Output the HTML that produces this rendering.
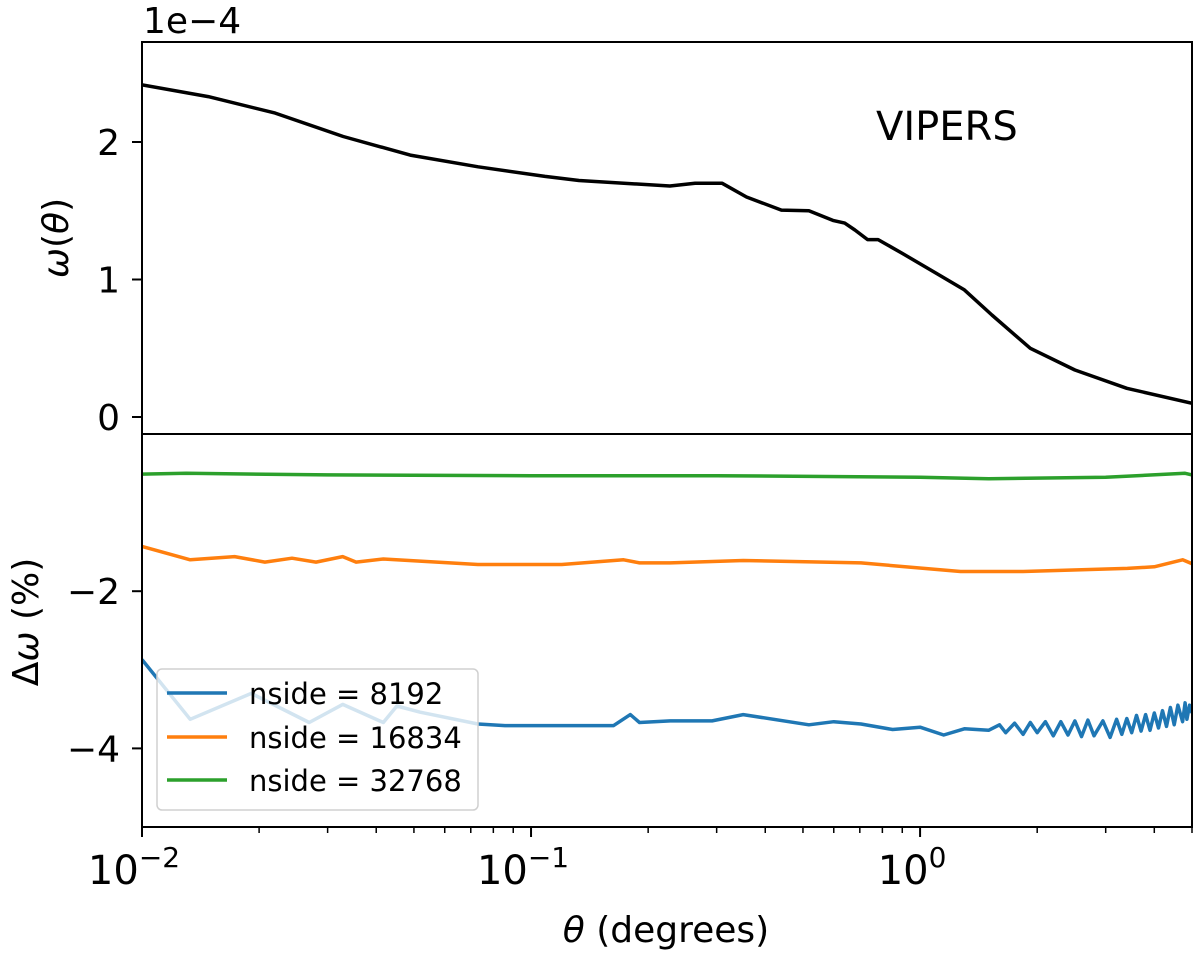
<!DOCTYPE html>
<html><head><meta charset="utf-8"><style>
html,body{margin:0;padding:0;background:#fff;}
svg{display:block;font-family:"DejaVu Sans","Liberation Sans",sans-serif;}
</style></head><body>
<svg id="chart" width="1200" height="965" viewBox="0 0 1200 965" xmlns="http://www.w3.org/2000/svg">
<g id="plots"></g>
<g id="axes"></g>
</svg>
<script>
// ---- data ----
const thetaTop = [0.01,0.0148,0.022,0.0329,0.0489,0.0731,0.1086,0.1328,0.2275,0.264,0.31,0.358,0.44,0.518,0.597,0.64,0.68,0.733,0.78,0.90,1.10,1.30,1.53,1.92,2.50,3.40,5.0];
const omegaTop = [2.415,2.33,2.21,2.04,1.905,1.82,1.75,1.72,1.68,1.70,1.70,1.60,1.505,1.50,1.43,1.41,1.36,1.29,1.29,1.19,1.045,0.924,0.742,0.50,0.342,0.209,0.10];

const thetaBlue = [0.01,0.0133,0.0191,0.0269,0.0328,0.0417,0.0452,0.0519,0.073,0.0857,0.163,0.18,0.19,0.228,0.292,0.351,0.518,0.6,0.705,0.85,1.0,1.15,1.3,1.5,1.6,1.66,1.75,1.84,1.92,2.0,2.1,2.2,2.3,2.4,2.5,2.6,2.7,2.8,2.95,3.08,3.2,3.3,3.4,3.5,3.6,3.7,3.8,3.9,4.0,4.1,4.2,4.3,4.4,4.5,4.6,4.73,4.8,4.85,4.93,5.0];
const deltaBlue = [-2.87,-3.63,-3.30,-3.67,-3.44,-3.67,-3.46,-3.54,-3.69,-3.71,-3.71,-3.57,-3.67,-3.65,-3.65,-3.57,-3.70,-3.66,-3.69,-3.76,-3.73,-3.83,-3.75,-3.77,-3.70,-3.80,-3.68,-3.82,-3.67,-3.80,-3.66,-3.84,-3.66,-3.83,-3.65,-3.85,-3.64,-3.84,-3.65,-3.86,-3.63,-3.82,-3.62,-3.80,-3.58,-3.78,-3.57,-3.77,-3.55,-3.74,-3.52,-3.72,-3.48,-3.70,-3.45,-3.66,-3.42,-3.63,-3.45,-3.55];

const thetaOrange = [0.01,0.0133,0.0173,0.0207,0.0243,0.028,0.0328,0.0355,0.0417,0.073,0.12,0.173,0.19,0.228,0.351,0.705,1.27,1.84,3.41,4.0,4.73,5.0];
const deltaOrange = [-1.43,-1.60,-1.56,-1.63,-1.58,-1.63,-1.56,-1.63,-1.59,-1.66,-1.66,-1.60,-1.64,-1.64,-1.61,-1.64,-1.75,-1.75,-1.71,-1.69,-1.60,-1.65];

const thetaGreen = [0.01,0.013,0.03,0.1,0.3,1.0,1.5,3.0,4.8,5.0];
const deltaGreen = [-0.51,-0.50,-0.52,-0.53,-0.53,-0.55,-0.57,-0.55,-0.50,-0.52];

const topTicks = [0,1,2];
const topTickLabels = ["0","1","2"];
const botTicks = [-2,-4];
const botTickLabels = ["\u22122","\u22124"];
const xMajor = [0.01,0.1,1];
const xMajorExp = ["\u22122","\u22121","0"];

// ---- axes ----
const L=142,R=1192,T1=42,B1=434,T2=434,B2=827;
const XMIN=Math.log10(0.01),XMAX=Math.log10(5);
function xs(t){return L+(Math.log10(t)-XMIN)/(XMAX-XMIN)*(R-L);}
function ysTop(v){return 417-v*137.5;}
function ysBot(v){return T2+(0-v)/5*(B2-T2);}

const NS="http://www.w3.org/2000/svg";
const plots=document.getElementById('plots');
const axes=document.getElementById('axes');
function mk(tag,attrs,parent){const e=document.createElementNS(NS,tag);for(const k in attrs)e.setAttribute(k,attrs[k]);parent.appendChild(e);return e;}

const defs=mk('defs',{},plots);
const c1=mk('clipPath',{id:'c1'},defs);mk('rect',{x:L,y:T1,width:R-L,height:B1-T1},c1);
const c2=mk('clipPath',{id:'c2'},defs);mk('rect',{x:L,y:T2,width:R-L,height:B2-T2},c2);

function line(th,vals,ysf,color,name,clip,w){
  let d='';
  for(let i=0;i<th.length;i++){d+=(i?'L':'M')+xs(th[i]).toFixed(1)+' '+ysf(vals[i]).toFixed(1);}
  const p=mk('path',{d:d,fill:'none',stroke:color,'stroke-width':w,'stroke-linejoin':'round','clip-path':'url(#'+clip+')'},plots);
  
  
}
line(thetaTop,omegaTop,ysTop,'#000','vipers-curve','c1',3.5);
line(thetaGreen,deltaGreen,ysBot,'#2ca02c','nside-32768-line','c2',3.5);
line(thetaOrange,deltaOrange,ysBot,'#ff7f0e','nside-16834-line','c2',3.5);
line(thetaBlue,deltaBlue,ysBot,'#1f77b4','nside-8192-line','c2',3.5);

const f1=mk('rect',{x:L,y:T1,width:R-L,height:B1-T1,fill:'none',stroke:'#000','stroke-width':2},axes);


const f2=mk('rect',{x:L,y:T2,width:R-L,height:B2-T2,fill:'none',stroke:'#000','stroke-width':2},axes);



for(let i=0;i<topTicks.length;i++){
  const y=ysTop(topTicks[i]);
  mk('line',{x1:L-10,x2:L,y1:y,y2:y,stroke:'#000','stroke-width':2},axes);
  const t=mk('text',{x:L-22,y:y+13,'text-anchor':'end','font-size':36,fill:'#000'},axes);
  t.textContent=topTickLabels[i];
  
  
}
for(let i=0;i<botTicks.length;i++){
  const y=ysBot(botTicks[i]);
  mk('line',{x1:L-10,x2:L,y1:y,y2:y,stroke:'#000','stroke-width':2},axes);
  const t=mk('text',{x:L-22,y:y+13,'text-anchor':'end','font-size':36,fill:'#000'},axes);
  t.textContent=botTickLabels[i];
  
  
}
for(let d=-2;d<=0;d++){
  for(let m=1;m<10;m++){
    const v=m*Math.pow(10,d); if(v>5.0001)break;
    const x=xs(v);
    const len=m===1?10:6;
    mk('line',{x1:x,x2:x,y1:B2,y2:B2+len,stroke:'#000','stroke-width':m===1?2:1.5},axes);
  }
}
for(let i=0;i<xMajor.length;i++){
  const x=xs(xMajor[i]);
  const t=mk('text',{x:x-8,y:884,'text-anchor':'middle','font-size':40,fill:'#000'},axes);
  t.textContent='10';
  const s=mk('tspan',{dy:-17,'font-size':28},t);
  s.textContent=xMajorExp[i];
  
  
}
</script>
<script>
const svg=document.getElementById('chart');
function addText(txt,attrs,name){const e=document.createElementNS("http://www.w3.org/2000/svg",'text');for(const k in attrs)e.setAttribute(k,attrs[k]);e.textContent=txt;svg.appendChild(e);


return e;}
addText('1e\u22124',{x:143,y:33,'font-size':36,fill:'#000'},'offset-label');
addText('VIPERS',{x:876,y:140,'font-size':40,fill:'#000'},'vipers-annotation');
const yl1=addText('',{x:0,y:0,'font-size':36,fill:'#000','text-anchor':'middle',transform:'translate(68,238) rotate(-90)'},'top-y-axis-title');
yl1.innerHTML='<tspan font-style="italic">ω</tspan>(<tspan font-style="italic">θ</tspan>)';
const yl2=addText('',{x:0,y:0,'font-size':36,fill:'#000','text-anchor':'middle',transform:'translate(38,622) rotate(-90)'},'bottom-y-axis-title');
yl2.innerHTML='Δ<tspan font-style="italic">ω</tspan> (%)';
const xl=addText('',{x:666,y:942,'font-size':36,fill:'#000','text-anchor':'middle'},'x-axis-title');
xl.innerHTML='<tspan font-style="italic">θ</tspan> (degrees)';

const NS2="http://www.w3.org/2000/svg";
const lg=document.createElementNS(NS2,'g');svg.appendChild(lg);


const box=document.createElementNS(NS2,'rect');
box.setAttribute('x',157);box.setAttribute('y',669);box.setAttribute('width',321);box.setAttribute('height',141);box.setAttribute('rx',5);
box.setAttribute('fill','rgba(255,255,255,0.8)');box.setAttribute('stroke','#d0d0d0');box.setAttribute('stroke-width',1.5);
lg.appendChild(box);
const legNames=['nside = 8192','nside = 16834','nside = 32768'];
const legColors=['#1f77b4','#ff7f0e','#2ca02c'];
const legY=[693,737,780];
for(let i=0;i<3;i++){
  const ln=document.createElementNS(NS2,'line');
  ln.setAttribute('x1',167);ln.setAttribute('x2',227);ln.setAttribute('y1',legY[i]);ln.setAttribute('y2',legY[i]);
  ln.setAttribute('stroke',legColors[i]);ln.setAttribute('stroke-width',3.5);
  lg.appendChild(ln);
  const tx=document.createElementNS(NS2,'text');
  tx.setAttribute('x',249);tx.setAttribute('y',legY[i]+11);tx.setAttribute('font-size',29);tx.setAttribute('fill','#000');
  tx.textContent=legNames[i];
  
  
  lg.appendChild(tx);
}
</script>
</body></html>
